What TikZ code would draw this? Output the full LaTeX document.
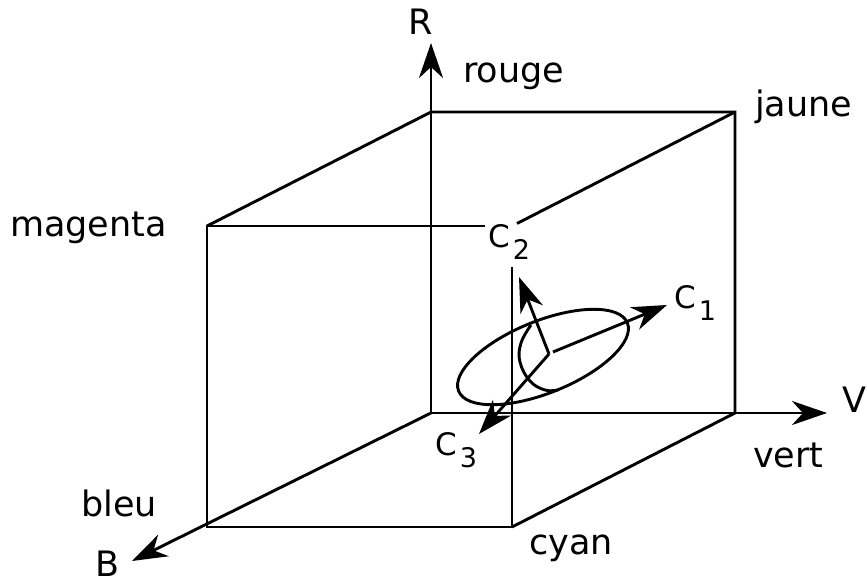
\documentclass[tikz,border=0pt]{standalone}
\usepackage{fontspec}
\setmainfont{DejaVu Sans}
\usetikzlibrary{arrows.meta}
\newcommand{\Csub}[1]{{\fontsize{31}{34}\selectfont C}\hspace{3pt}\raisebox{-12pt}{\fontsize{27}{30}\selectfont #1}}
\begin{document}
\begin{tikzpicture}[x=1pt,y=-1pt,
  edge/.style={line width=2.9pt},
  axis/.style={edge, -{Stealth[length=35pt,width=24pt,inset=11pt]}},
  lab/.style={inner sep=0pt, font=\fontsize{35}{40}\selectfont},
]
\useasboundingbox (0,0) rectangle (867,583);
% cube corners
\coordinate (O) at (431,413);
\coordinate (BTL) at (431,112);
\coordinate (BTR) at (735,112);
\coordinate (BBR) at (735,413);
\coordinate (FTL) at (207,226);
\coordinate (FTR) at (512,226);
\coordinate (FBL) at (207,527);
\coordinate (FBR) at (512,527);
% gaps around the C2 label
\coordinate (C2a) at (485,226);
\coordinate (C2b) at (512,267);
\coordinate (C2c) at (517,223.5);
% axis tips
\coordinate (Rt) at (431,43);
\coordinate (Vt) at (827,413);
\coordinate (Bt) at (132,561);
% ellipse and principal axes
\coordinate (E) at (543,357);
\coordinate (P) at (549,354);
\coordinate (P1) at (553,352);
\coordinate (T1) at (667,305);
\coordinate (T2) at (519,277);
\coordinate (T3) at (479,434);

% cube edges
\draw[edge] (C2a) -- (FTL) -- (FBL) -- (FBR) -- (C2b);
\draw[edge] (FTL) -- (BTL) -- (BTR) -- (BBR) -- (FBR);
\draw[edge] (C2c) -- (BTR);
% axes
\draw[axis] (O) -- (Rt);
\draw[axis] (O) -- (Vt);
\draw[axis] (O) -- (Bt);
% ellipsoid
\draw[edge, rotate around={22:(E)}] (E) ellipse [x radius=91pt, y radius=36pt];
\draw[edge] plot[smooth, tension=0.7] coordinates {(531,325) (521,343) (520,362) (530,381) (545,390) (558,390)};
\draw[axis] (P1) -- (T1);
\draw[axis] (P) -- (T2);
\draw[axis] (P) -- (T3);

% labels
\node[lab, anchor=base] (lR) at (421,35) {R};
\node[lab, anchor=base west] (lrouge) at (463,83) {rouge};
\node[lab, anchor=base west] (ljaune) at (755,117) {jaune};
\node[lab, anchor=base west] (lmagenta) at (10,236) {magenta};
\node[lab, anchor=base] (lV) at (854,412) {V};
\node[lab, anchor=base west] (lvert) at (753,467) {vert};
\node[lab, anchor=base west] (lbleu) at (81,516) {bleu};
\node[lab, anchor=base] (lB) at (108,576) {B};
\node[lab, anchor=base west] (lcyan) at (529,554) {cyan};
\node[inner sep=0pt, anchor=base west] (lC1) at (674,308) {\Csub{1}};
\node[inner sep=0pt, anchor=base west] (lC2) at (488,247) {\Csub{2}};
\node[inner sep=0pt, anchor=base west] (lC3) at (435,455) {\Csub{3}};
\end{tikzpicture}
\end{document}
